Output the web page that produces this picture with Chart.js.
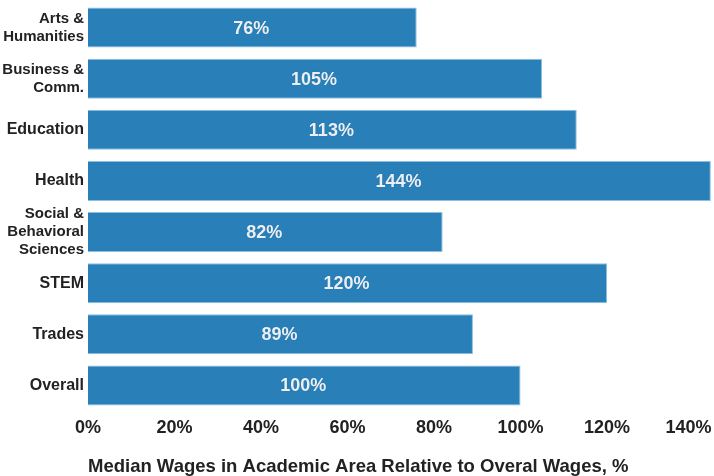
<!DOCTYPE html>
<html>
<head>
<meta charset="utf-8">
<script src="https://cdn.jsdelivr.net/npm/chart.js@4"></script>
<style>
  html, body { margin: 0; padding: 0; background: #fff; }
  #wrap { width: 714px; height: 476px; }
</style>
</head>
<body>
<div id="wrap"><canvas id="wagesChart"></canvas></div>
<script>
// Median wages by academic area, relative to overall (%)
const categories = [
    ['Arts &', 'Humanities'],
    ['Business &', 'Comm.'],
    'Education',
    'Health',
    ['Social &', 'Behavioral', 'Sciences'],
    'STEM',
    'Trades',
    'Overall'
];
const wageRatios = [76, 105, 113, 144, 82, 120, 89, 100];
const xTickValues = [0, 20, 40, 60, 80, 100, 120, 140];
const axisTitle = 'Median Wages in Academic Area Relative to Overal Wages, %';

// simple inline value labels, centred in each bar
const barLabels = {
    id: 'barLabels',
    afterDatasetsDraw(chart) {
        const { ctx } = chart;
        const meta = chart.getDatasetMeta(0);
        ctx.save();
        ctx.font = 'bold 18px "Liberation Sans", Arial, sans-serif';
        ctx.textAlign = 'center';
        ctx.textBaseline = 'middle';
        ctx.fillStyle = '#eaf0f6';
        ctx.shadowColor = 'rgba(0,0,0,0.25)';
        ctx.shadowBlur = 1;
        meta.data.forEach((bar, i) => {
            const x = (bar.base + bar.x) / 2;
            ctx.fillText(wageRatios[i] + '%', x - 1, bar.y + 1);
        });
        ctx.restore();
    }
};

new Chart(document.getElementById('wagesChart'), {
    type: 'bar',
    data: {
        labels: categories,
        datasets: [{
            data: wageRatios,
            backgroundColor: '#2980b9',
            borderColor: '#8dbfe3',
            borderWidth: 1,
            barPercentage: 0.78,
            categoryPercentage: 1
        }]
    },
    options: {
        indexAxis: 'y',
        responsive: true,
        maintainAspectRatio: false,
        animation: false,
        layout: { padding: { top: 2, right: 1, left: 0, bottom: 0 } },
        plugins: {
            legend: { display: false },
            tooltip: { enabled: false }
        },
        scales: {
            x: {
                min: 0,
                max: 144.5,
                grid: { display: false, drawTicks: false },
                border: { display: false },
                afterBuildTicks: s => { s.ticks = xTickValues.map(v => ({ value: v })); },
                afterFit: s => { s.height = 65; s.paddingLeft = 0; s.paddingRight = 0; },
                ticks: {
                    padding: 6,
                    color: '#222',
                    font: { family: '"Liberation Sans", Arial, sans-serif', size: 18, weight: 'bold' },
                    // nudge last label so it stays inside the canvas
                    callback: v => v === 140 ? v + '%\u00a0\u00a0' : v + '%'
                },
                title: {
                    display: true,
                    text: axisTitle,
                    align: 'start',
                    color: '#222',
                    padding: { top: 8, bottom: 0 },
                    font: { family: '"Liberation Sans", Arial, sans-serif', size: 18.5, weight: 'bold', lineHeight: 1 }
                }
            },
            y: {
                grid: { display: false, drawTicks: false },
                border: { display: false },
                afterFit: s => { s.width = 88; s.paddingTop = 0; s.paddingBottom = 0; },
                ticks: {
                    autoSkip: false,
                    padding: 4,
                    color: '#222',
                    font: ctx => ({
                        family: '"Liberation Sans", Arial, sans-serif',
                        size: Array.isArray(categories[ctx.index]) ? 15 : 16,
                        weight: 'bold',
                        lineHeight: 1.2
                    })
                }
            }
        }
    },
    plugins: [barLabels]
});
</script>
</body>
</html>
